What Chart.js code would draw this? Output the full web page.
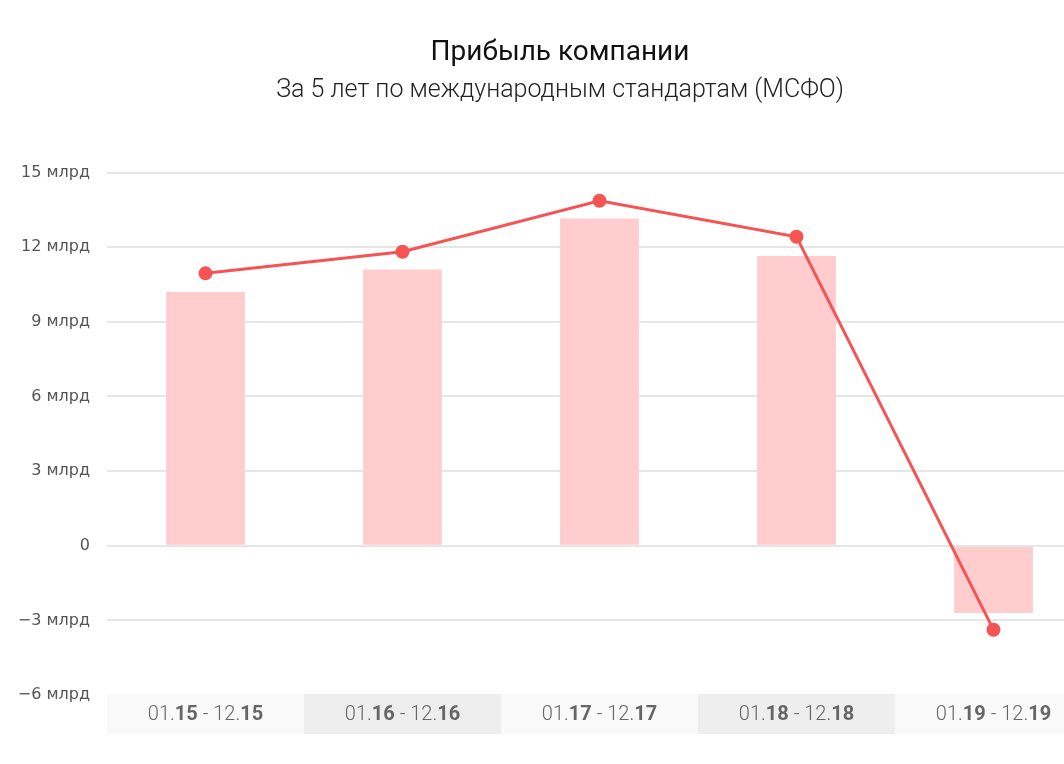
<!DOCTYPE html>
<html>
<head>
<meta charset="utf-8">
<script src="https://cdn.jsdelivr.net/npm/chart.js@4"></script>
<style>
  html, body { margin: 0; padding: 0; background: #fff; overflow: hidden; }
  #wrap { width: 1120px; height: 764px; }
</style>
</head>
<body>
<div id="wrap"><canvas id="profitChart" width="1120" height="764"></canvas></div>
<script>
// Periods shown on the x axis
const periodLabels = ['01.15 - 12.15', '01.16 - 12.16', '01.17 - 12.17', '01.18 - 12.18', '01.19 - 12.19'];

// Profit, bln rub (bars and line)
const barValues = [10.2, 11.1, 13.15, 11.65, -2.7];
const lineValues = [10.95, 11.82, 13.87, 12.42, -3.38];

// Y axis ticks
const yMin = -6;
const yMax = 15;
const yStep = 3;

const titleText = 'Прибыль компании';
const subtitleText = 'За 5 лет по международным стандартам (МСФО)';

// Draw the striped period labels under the plot, with the year part in bold
const periodBands = {
    id: 'periodBands',
    afterDraw(chart) {
        const ctx = chart.ctx;
        const x = chart.scales.x;
        const top = chart.chartArea.bottom - 1;
        const h = 40;
        ctx.save();
        periodLabels.forEach((label, i) => {
            const center = x.getPixelForValue(i);
            const half = (x.getPixelForValue(1) - x.getPixelForValue(0)) / 2;
            ctx.fillStyle = i % 2 === 0 ? '#f9f9f9' : '#eeeeee';
            ctx.fillRect(center - half, top, half * 2, h);

            // split "01.15 - 12.15" into normal / bold pieces
            const parts = [];
            label.split(/(\d\d)(?=\s|$)/).forEach(p => {
                if (p === '') return;
                parts.push({ text: p, bold: /^\d\d$/.test(p) });
            });
            const fontFor = b => (b ? '700 20px Roboto' : '300 20px Roboto');
            let total = 0;
            parts.forEach(p => { ctx.font = fontFor(p.bold); total += ctx.measureText(p.text).width; });
            let cx = center - total / 2;
            ctx.fillStyle = '#666';
            ctx.textBaseline = 'middle';
            ctx.textAlign = 'left';
            parts.forEach(p => {
                ctx.font = fontFor(p.bold);
                ctx.fillText(p.text, cx, top + h / 2 + 1);
                cx += ctx.measureText(p.text).width;
            });
        });
        ctx.restore();
    }
};

const ctx = document.getElementById('profitChart').getContext('2d');
new Chart(ctx, {
    data: {
        labels: periodLabels,
        datasets: [
            {
                type: 'line',
                data: lineValues,
                borderColor: '#f65454',
                backgroundColor: '#f65454',
                borderWidth: 3,
                pointRadius: 5.5,
                pointHoverRadius: 5.5,
                tension: 0,
                order: 1
            },
            {
                type: 'bar',
                data: barValues,
                backgroundColor: '#ffcdcd',
                barPercentage: 0.4,
                categoryPercentage: 1,
                order: 2
            }
        ]
    },
    options: {
        responsive: false,
        animation: false,
        layout: { padding: 0 },
        plugins: {
            legend: { display: false },
            tooltip: { enabled: false },
            title: {
                display: true,
                text: titleText,
                color: '#111',
                font: { family: 'Roboto', size: 28, weight: '400' },
                padding: { top: 36, bottom: 6 }
            },
            subtitle: {
                display: true,
                text: subtitleText,
                color: '#222',
                font: { family: 'Roboto', size: 25, weight: '300' },
                padding: { bottom: 67 }
            }
        },
        scales: {
            x: {
                ticks: { display: false },
                grid: { display: false },
                border: { display: false },
                afterFit(scale) { scale.height = 69; }
            },
            y: {
                min: yMin,
                max: yMax,
                ticks: {
                    stepSize: yStep,
                    color: '#555',
                    padding: 17,
                    font: { family: 'DejaVu Sans', size: 16 },
                    callback: v => v === 0 ? '0' : (v < 0 ? '\u2212' + Math.abs(v) : v) + ' млрд'
                },
                grid: { color: '#e6e6e6', lineWidth: 2, drawTicks: false },
                border: { display: false },
                afterFit(scale) { scale.width = 107; }
            },
            // empty right axis, only keeps a 28px gap right of the plot
            yRight: {
                position: 'right',
                ticks: { display: false },
                grid: { display: false },
                border: { display: false },
                afterFit(scale) { scale.width = 28; }
            }
        }
    },
    plugins: [periodBands]
});
</script>
</body>
</html>
